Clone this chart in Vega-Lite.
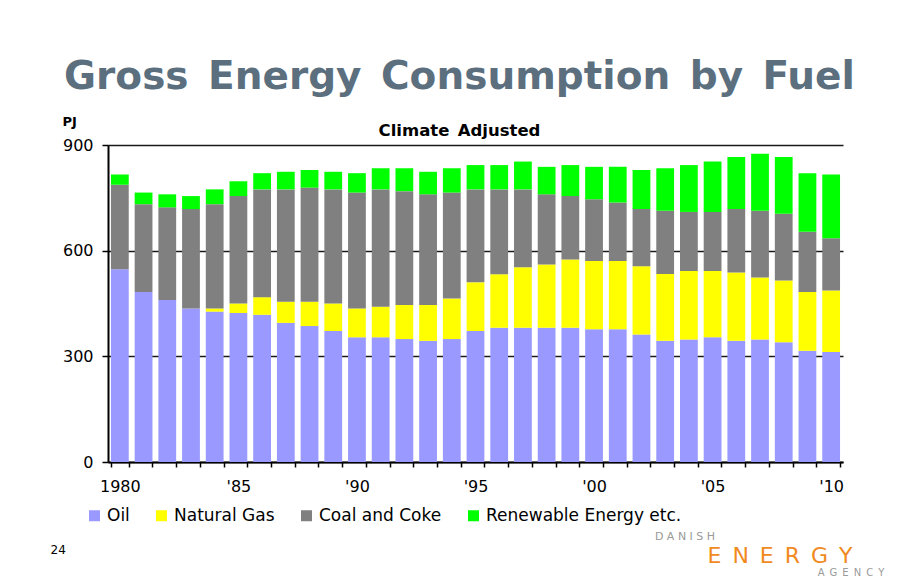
{
  "$schema": "https://vega.github.io/schema/vega-lite/v6.json",
  "width": 735,
  "height": 317,
  "autosize": {"type": "none"},
  "padding": {"left": 108, "top": 145, "right": 70, "bottom": 124},
  "background": "white",
  "title": {
    "text": "Gross\u2002Energy\u2002Consumption\u2002by\u2002Fuel",
    "subtitle": "Climate\u2002Adjusted",
    "anchor": "middle",
    "dx": -16,
    "offset": -24,
    "font": "DejaVu Sans",
    "fontSize": 39,
    "fontWeight": "bold",
    "color": "#5b6f7e",
    "subtitleFont": "DejaVu Sans",
    "subtitleFontSize": 16.5,
    "subtitleFontWeight": "bold",
    "subtitleColor": "#000000",
    "subtitlePadding": 26
  },
  "data": {
    "values": [
      {"year": 1980, "oil": 547, "gas": 0, "coal": 240, "alt": 29},
      {"year": 1981, "oil": 483, "gas": 0, "coal": 249, "alt": 33},
      {"year": 1982, "oil": 460, "gas": 0, "coal": 263, "alt": 37},
      {"year": 1983, "oil": 436, "gas": 0, "coal": 282, "alt": 37},
      {"year": 1984, "oil": 427, "gas": 9, "coal": 296, "alt": 42},
      {"year": 1985, "oil": 423, "gas": 27, "coal": 305, "alt": 42},
      {"year": 1986, "oil": 418, "gas": 50, "coal": 306, "alt": 46},
      {"year": 1987, "oil": 395, "gas": 60, "coal": 319, "alt": 50},
      {"year": 1988, "oil": 386, "gas": 69, "coal": 324, "alt": 50},
      {"year": 1989, "oil": 372, "gas": 78, "coal": 324, "alt": 50},
      {"year": 1990, "oil": 354, "gas": 82, "coal": 329, "alt": 55},
      {"year": 1991, "oil": 354, "gas": 87, "coal": 333, "alt": 60},
      {"year": 1992, "oil": 349, "gas": 97, "coal": 323, "alt": 65},
      {"year": 1993, "oil": 344, "gas": 102, "coal": 314, "alt": 64},
      {"year": 1994, "oil": 349, "gas": 115, "coal": 301, "alt": 69},
      {"year": 1995, "oil": 372, "gas": 138, "coal": 264, "alt": 69},
      {"year": 1996, "oil": 381, "gas": 152, "coal": 241, "alt": 69},
      {"year": 1997, "oil": 381, "gas": 172, "coal": 221, "alt": 79},
      {"year": 1998, "oil": 381, "gas": 180, "coal": 199, "alt": 78},
      {"year": 1999, "oil": 381, "gas": 194, "coal": 180, "alt": 88},
      {"year": 2000, "oil": 377, "gas": 194, "coal": 175, "alt": 92},
      {"year": 2001, "oil": 377, "gas": 194, "coal": 166, "alt": 101},
      {"year": 2002, "oil": 362, "gas": 194, "coal": 162, "alt": 111},
      {"year": 2003, "oil": 344, "gas": 190, "coal": 179, "alt": 121},
      {"year": 2004, "oil": 348, "gas": 194, "coal": 168, "alt": 133},
      {"year": 2005, "oil": 354, "gas": 188, "coal": 168, "alt": 143},
      {"year": 2006, "oil": 344, "gas": 194, "coal": 180, "alt": 148},
      {"year": 2007, "oil": 348, "gas": 176, "coal": 189, "alt": 162},
      {"year": 2008, "oil": 340, "gas": 175, "coal": 190, "alt": 161},
      {"year": 2009, "oil": 316, "gas": 167, "coal": 171, "alt": 166},
      {"year": 2010, "oil": 312, "gas": 175, "coal": 148, "alt": 181}
    ]
  },
  "layer": [
    {
      "transform": [
        {"fold": ["oil", "gas", "coal", "alt"], "as": ["fuel", "pj"]}
      ],
      "mark": {"type": "bar"},
      "encoding": {
        "x": {
          "field": "year",
          "type": "ordinal",
          "scale": {"paddingInner": 0.25, "paddingOuter": 0.125},
          "axis": {
            "title": "24",
            "titleX": -58,
            "titleY": 91,
            "titleAlign": "left",
            "titleBaseline": "alphabetic",
            "titleFont": "DejaVu Sans",
            "titleFontSize": 12,
            "titleFontWeight": "normal",
            "titleColor": "#000000",
            "labelAngle": 0,
            "labelOverlap": false,
            "labelExpr": "datum.value % 5 == 0 ? (datum.value == 1980 ? '1980' : \"'\" + slice(toString(datum.value), 2)) : ''",
            "labelFont": "DejaVu Sans",
            "labelFontSize": 16,
            "labelColor": "#000000",
            "labelPadding": 11,
            "tickBand": "extent",
            "tickColor": "#000000",
            "tickSize": 5,
            "tickWidth": 1.5,
            "domainColor": "#000000",
            "domainWidth": 2,
            "grid": false
          }
        },
        "y": {
          "field": "pj",
          "type": "quantitative",
          "stack": "zero",
          "scale": {"domain": [0, 900], "nice": false},
          "axis": {
            "title": "PJ",
            "titleAngle": 0,
            "titleX": -46,
            "titleY": -20,
            "titleAlign": "left",
            "titleBaseline": "alphabetic",
            "titleFont": "DejaVu Sans",
            "titleFontSize": 13,
            "titleFontWeight": "bold",
            "titleColor": "#000000",
            "values": [0, 300, 600, 900],
            "labelFont": "DejaVu Sans",
            "labelFontSize": 16,
            "labelColor": "#000000",
            "labelPadding": 9,
            "tickColor": "#000000",
            "tickSize": 6,
            "tickWidth": 1.5,
            "domainColor": "#000000",
            "domainWidth": 2,
            "grid": true,
            "gridColor": "#1a1a1a",
            "gridWidth": 1.5
          }
        },
        "order": {"field": "fuel", "sort": "descending"},
        "color": {
          "field": "fuel",
          "type": "nominal",
          "scale": {
            "domain": ["oil", "gas", "coal", "alt"],
            "range": ["#9999ff", "#ffff00", "#808080", "#00ff00"]
          },
          "legend": {
            "title": null,
            "orient": "none",
            "direction": "horizontal",
            "legendX": -22,
            "legendY": 362,
            "symbolType": "square",
            "symbolSize": 121,
            "symbolStrokeWidth": 0,
            "labelFont": "DejaVu Sans",
            "labelFontSize": 17,
            "labelColor": "#000000",
            "labelOffset": 4,
            "labelLimit": 400,
            "columnPadding": 23,
            "labelExpr": "datum.label == 'oil' ? 'Oil' : datum.label == 'gas' ? 'Natural Gas' : datum.label == 'coal' ? 'Coal and Coke' : 'Renewable Energy etc.'"
          }
        }
      }
    },
    {
      "data": {"values": [{"t": "D A N I S H"}]},
      "mark": {"type": "text", "x": 577, "y": 392, "align": "center", "baseline": "middle", "font": "DejaVu Sans", "fontSize": 11, "color": "#9a9a9a"},
      "encoding": {"text": {"field": "t"}}
    },
    {
      "data": {"values": [{"t": "E\u2002N\u2002E\u2002R\u2002G\u2002Y"}]},
      "mark": {"type": "text", "x": 672, "y": 418, "align": "center", "baseline": "alphabetic", "font": "DejaVu Sans", "fontSize": 22, "color": "#f08a1e"},
      "encoding": {"text": {"field": "t"}}
    },
    {
      "data": {"values": [{"t": "A\u2002G\u2002E\u2002N\u2002C\u2002Y"}]},
      "mark": {"type": "text", "x": 743, "y": 428, "align": "center", "baseline": "middle", "font": "DejaVu Sans", "fontSize": 10, "color": "#9a9a9a"},
      "encoding": {"text": {"field": "t"}}
    }
  ],
  "config": {
    "view": {"stroke": null}
  }
}
